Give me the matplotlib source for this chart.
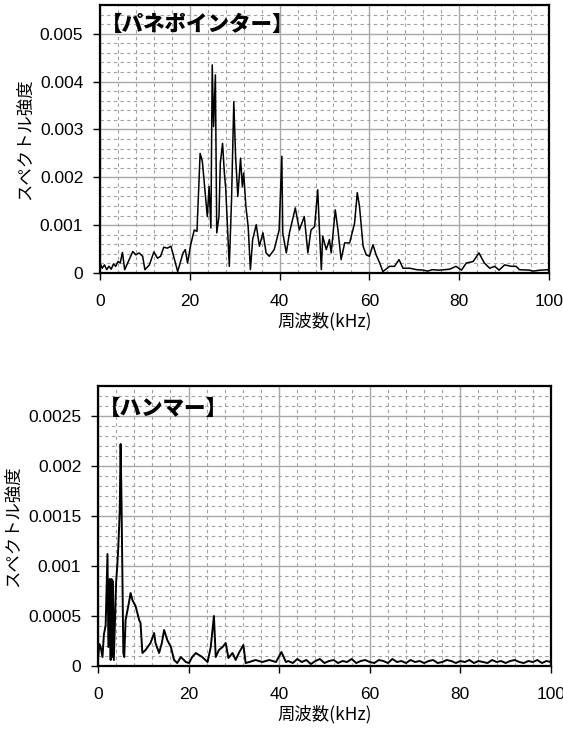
import numpy as np
import matplotlib
matplotlib.use("Agg")
import matplotlib.pyplot as plt
from matplotlib.ticker import MultipleLocator, FuncFormatter

plt.rcParams['font.family'] = ['Liberation Sans', 'Noto Sans CJK JP', 'DejaVu Sans']

# spring pointer spectrum (kHz, intensity x1e-4)
spring_khz = [0.0, 0.5, 1.0, 1.5, 2.0, 2.5, 3.0, 3.5, 4.0, 4.5, 5.0, 5.5, 6.5, 7.3, 8.0,
              8.7, 9.5, 10.0, 11.0, 12.0, 12.8, 13.5, 14.2, 15.0, 15.8, 16.8, 17.3, 18.5,
              19.0, 19.5, 20.2, 21.0, 21.6, 22.3, 22.8, 23.5, 23.9, 24.3, 24.7, 25.0, 25.3,
              25.7, 26.0, 26.5, 26.8, 27.3, 27.7, 28.0, 28.8, 29.3, 29.8, 30.2, 30.7, 31.3,
              31.7, 32.0, 32.5, 33.0, 33.5, 34.0, 34.8, 35.5, 36.3, 37.0, 37.7, 38.8, 39.9,
              40.5, 40.7, 41.5, 42.2, 43.5, 44.4, 45.5, 46.3, 47.0, 47.8, 48.5, 48.9, 49.3,
              49.6, 50.4, 51.1, 51.5, 52.4, 53.0, 53.7, 54.5, 55.6, 56.7, 57.3, 57.8, 58.6,
              59.3, 60.0, 60.8, 61.5, 62.3, 63.0, 64.5, 65.6, 66.6, 67.5, 69.0, 70.5, 72.0,
              73.0, 74.0, 75.6, 77.9, 79.3, 80.5, 81.6, 83.1, 84.4, 85.6, 86.8, 87.9, 88.9,
              90.1, 91.6, 92.7, 93.4, 95.7, 96.5, 98.0, 100.0]
spring_val = [2.1, 1.0, 1.7, 0.7, 1.4, 0.8, 1.9, 1.4, 2.4, 2.1, 4.3, 0.7, 2.8, 4.5, 3.8,
              4.2, 3.5, 0.7, 1.7, 4.4, 3.1, 3.5, 5.4, 5.2, 5.6, 2.1, 0.3, 4.2,
              4.9, 2.1, 5.9, 9.0, 8.7, 25.0, 23.3, 16.0, 11.8, 18.1, 9.4, 43.5, 30.6,
              41.4, 8.4, 11.8, 23.0, 27.1, 20.9, 17.7, 1.4, 15.3, 35.8, 24.4, 16.0, 24.0,
              18.1, 20.9, 13.9, 9.7, 0.7, 7.0, 10.1, 5.6, 8.4, 4.2, 3.5, 4.9, 9.0,
              24.4, 8.4, 4.2, 8.4, 13.6, 9.0, 11.8, 4.2, 9.0, 9.7, 17.4, 8.4, 0.7,
              7.7, 4.9, 7.0, 4.2, 13.2, 9.0, 2.8, 6.3, 6.3, 10.4, 16.8, 13.9, 5.6,
              3.8, 3.5, 5.9, 3.8, 2.1, 0.3, 1.4, 1.4, 2.8, 1.0, 1.0, 0.7, 0.6,
              0.4, 0.7, 0.6, 0.8, 1.4, 0.6, 2.1, 2.4, 4.2, 2.1, 1.0, 1.4, 0.6,
              1.7, 1.4, 1.4, 0.7, 0.6, 0.4, 0.6, 0.7]

# hammer spectrum (kHz, intensity x1e-4)
hammer_khz = [0.0, 0.3, 0.6, 1.0, 1.3, 1.7, 2.1, 2.3, 2.6, 2.8, 3.0, 3.1, 3.3, 3.5, 3.8,
              4.0, 4.3, 4.5, 4.8, 5.0, 5.2, 5.4, 5.6, 5.8, 6.1, 6.7, 7.2, 7.6, 8.3, 9.1,
              9.4, 9.8, 10.5, 11.6, 12.4, 12.7, 13.5, 14.1, 14.6, 15.3, 16.1, 16.8, 17.5,
              18.3, 19.4, 20.1, 20.8, 21.6, 23.0, 24.2, 24.9, 25.6, 26.0, 26.7, 27.5, 28.2,
              28.8, 29.7, 30.4, 31.1, 32.1, 32.6, 33.4, 34.8, 36.3, 37.8, 39.3, 40.5, 41.5,
              42, 43, 44, 45, 46, 47, 48, 49, 50, 51, 52, 53, 54, 55, 56, 57, 58, 59, 60,
              61, 62, 63, 64, 65, 66, 67, 68, 69, 70, 71, 72, 73, 74, 75, 76, 77, 78, 79,
              80, 81, 82, 83, 84, 85, 86, 87, 88, 89, 90, 91, 92, 93, 94, 95, 96, 97, 98,
              99, 100]
hammer_val = [0.6, 2.2, 1.9, 0.9, 3.1, 4.1, 11.2, 1.9, 8.7, 0.6, 8.7, 0.9, 8.5, 0.6, 5.3,
              8.3, 10.3, 12.0, 15.4, 22.2, 16.4, 8.7, 1.3, 0.9, 4.6, 6.0, 7.3, 6.6, 6.0, 4.6,
              4.3, 1.3, 1.6, 2.3, 3.3, 2.3, 1.3, 2.3, 3.6, 2.6, 1.9, 0.6, 0.3,
              0.9, 0.4, 0.3, 0.9, 1.3, 0.9, 0.4, 1.9, 5.0, 0.9, 1.6, 1.9, 2.3,
              0.8, 1.3, 0.6, 1.3, 2.1, 0.3, 0.4, 0.6, 0.4, 0.6, 0.4, 1.4, 0.4,
              0.5, 0.3, 0.7, 0.4, 0.6, 0.2, 0.5, 0.7, 0.3, 0.5,
              0.6, 0.3, 0.5, 0.4, 0.7, 0.3, 0.5, 0.6, 0.4, 0.3,
              0.6, 0.5, 0.3, 0.7, 0.4, 0.5, 0.3, 0.6, 0.4, 0.5,
              0.3, 0.5, 0.6, 0.3, 0.4, 0.6, 0.5, 0.3, 0.5, 0.4,
              0.6, 0.3, 0.5, 0.4, 0.3, 0.6, 0.4, 0.5, 0.3, 0.5,
              0.6, 0.4, 0.3, 0.5, 0.4, 0.6, 0.3, 0.5, 0.4]

titles = ['【パネポインター】', '【ハンマー】']
xlabel = '周波数(kHz)'
ylabel = 'スペクトル強度'

fig = plt.figure(figsize=(5.63, 7.31), dpi=100)
ax1 = fig.add_axes([0.1776, 0.6265, 0.7975, 0.3666])
ax2 = fig.add_axes([0.174, 0.0889, 0.8046, 0.383])

series = [(ax1, spring_khz, spring_val, 0.0056, 0.001, 0.0002, 1.1, 0.929),
          (ax2, hammer_khz, hammer_val, 0.0028, 0.0005, 0.0001, 1.4, 0.921)]

for i, (ax, xs, ys, ytop, ymaj, ymin, lw, ty) in enumerate(series):
    ax.plot(xs, np.array(ys) * 1e-4, color='black', lw=lw)
    ax.set_xlim(0, 100)
    ax.set_ylim(0, ytop)
    ax.xaxis.set_major_locator(MultipleLocator(20))
    ax.xaxis.set_minor_locator(MultipleLocator(4))
    ax.yaxis.set_major_locator(MultipleLocator(ymaj))
    ax.yaxis.set_minor_locator(MultipleLocator(ymin))
    ax.yaxis.set_major_formatter(FuncFormatter(lambda v, p: '%g' % round(v, 6)))
    ax.grid(which='major', color='#a8a8a8', lw=1.0, ls='-')
    ax.grid(which='minor', color='#a0a0a0', lw=0.8, ls=(0, (3, 3)))
    ax.set_axisbelow(True)
    ax.tick_params(which='major', direction='out', length=5, width=1, labelsize=12.5)
    ax.tick_params(axis='x', pad=10)
    ax.tick_params(axis='y', pad=7)
    ax.tick_params(which='minor', length=0)
    for s in ax.spines.values():
        s.set_linewidth(1.6)
    ax.set_xlabel(xlabel, family=['Noto Sans CJK JP'], fontsize=12.5, labelpad=2)
    ax.set_ylabel(ylabel, family=['Noto Sans CJK JP'], fontsize=12.5, labelpad=4)
    ax.text(0.003, ty, titles[i], transform=ax.transAxes, ha='left', va='center',
            family=['Noto Sans CJK JP'], fontsize=15.5, fontweight='black')

fig.savefig('out.png', dpi=100)
